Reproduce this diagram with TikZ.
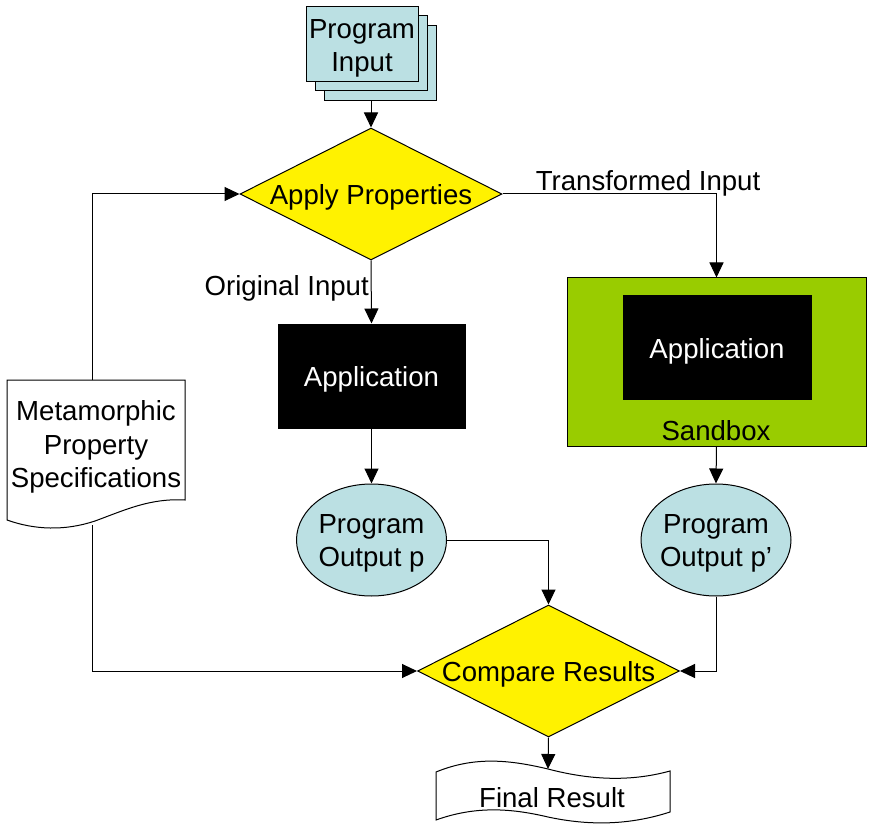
\documentclass[tikz,border=0pt]{standalone}
\usepackage{fontspec}
\setmainfont{Liberation Sans}
\usetikzlibrary{shapes.geometric,arrows.meta}
\definecolor{boxcyan}{RGB}{187,224,227}
\definecolor{sandgreen}{RGB}{153,204,0}
\begin{document}
\begin{tikzpicture}[x=0.75pt,y=-0.75pt,
  every node/.style={font=\fontsize{20.7pt}{25pt}\selectfont, inner sep=0pt},
  line/.style={draw=black, line width=0.75pt},
  conn/.style={line, -{Triangle[length=11.25pt,width=10.5pt]}},
  lbl/.style={align=center, yshift=-2.7pt},
  stackbox/.style={line, fill=boxcyan, minimum width=84pt, minimum height=56.25pt},
  decision/.style={line, fill=yellow, diamond, shape aspect=2, minimum width=196.5pt, minimum height=99pt},
  appbox/.style={line, fill=black, minimum width=140.25pt, minimum height=78pt},
  outell/.style={line, fill=boxcyan, ellipse, minimum width=112.5pt, minimum height=84pt}
]
\useasboundingbox (0,0) rectangle (878,834);

% program input stack
\node[stackbox] (inback) at (380,63) {};
\node[stackbox] (inmid) at (371,53.5) {};
\node[stackbox, label={[lbl]center:{Program\\Input}}] (infront) at (362,44.5) {};

% apply properties
\node[decision, label={[lbl]center:Apply Properties}] (apply) at (371,194) {};

% left application
\node[appbox, label={[lbl, text=white]center:Application}] (app1) at (371.5,376) {};

% sandbox
\node[line, fill=sandgreen, minimum width=224.25pt, minimum height=126pt] (sandbox) at (716.5,362) {};
\node[appbox, minimum width=141pt, minimum height=77.25pt, label={[lbl, text=white]center:Application}] (app2) at (717,347.5) {};
\node[anchor=base] (sandlbl) at (716,440) {Sandbox};

% outputs
\node[outell, label={[lbl]center:{Program\\Output p}}] (outp) at (371.5,540) {};
\node[outell, label={[lbl]center:{Program\\Output p’}}] (outq) at (716,540) {};

% compare results
\node[decision, label={[lbl]center:Compare Results}] (compare) at (548.5,671) {};

% metamorphic property specifications (document shape)
\draw[line, fill=white] (7,380) -- (185,380) -- (185,500)
  .. controls (150,498) and (125,510) .. (95,521)
  .. controls (65,531) and (35,530) .. (7,520) -- cycle;
\node[lbl] (meta) at (96,443.5) {Metamorphic\\Property\\Specifications};
\coordinate (mtop) at (92,380);
\coordinate (mbot) at (92,525);

% final result (tape shape)
\draw[line, fill=white] (436,772)
  .. controls (475,756) and (510,760) .. (548,769)
  .. controls (590,780) and (630,782) .. (670,771)
  -- (670,812)
  .. controls (630,825) and (590,826) .. (548,817)
  .. controls (510,808) and (475,806) .. (436,820) -- cycle;
\node (final) at (552,798) {Final Result};
\coordinate (ftop) at (548,769);

% connectors
\draw[conn] (apply.north |- inback.south) -- (apply.north);
\draw[conn] (apply.south) -- node[pos=0.55, anchor=base east, xshift=-1.5pt, yshift=-0.2pt] (origlbl) {Original Input} (app1.north);
\draw[conn] (apply.east) -| node[pos=0.34, anchor=base, yshift=2.5pt] (translbl) {Transformed Input} (sandbox.north);
\draw[conn] (app1.south) -- (outp.north);
\draw[conn] (sandbox.south) -- (outq.north);
\draw[conn] (outp.east) -| (compare.north);
\draw[conn] (outq.south) |- (compare.east);
\draw[conn] (mtop) |- (apply.west);
\draw[conn] (mbot) |- (compare.west);
\draw[conn] (compare.south) -- (ftop);
\end{tikzpicture}
\end{document}
